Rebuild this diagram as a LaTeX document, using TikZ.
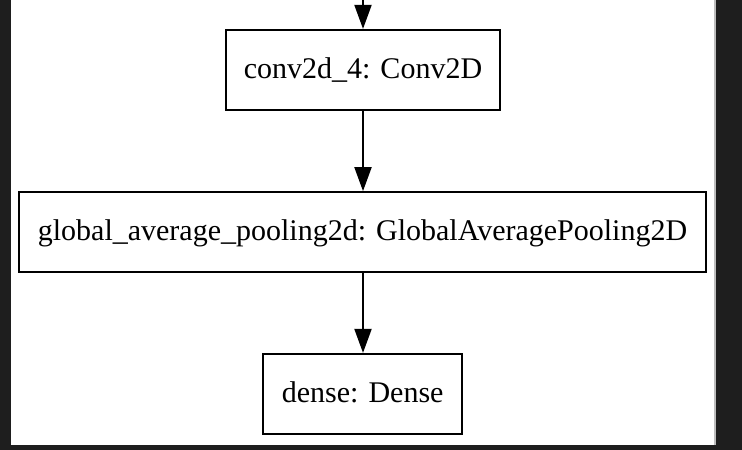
\documentclass[tikz,border=0pt]{standalone}
\usepackage{fontspec}
\setmainfont{Liberation Serif}
\usetikzlibrary{arrows.meta}
\definecolor{darkbg}{HTML}{1E1E1E}
\definecolor{edgegrey}{HTML}{BDBDBD}
\begin{document}
\begin{tikzpicture}[x=1bp,y=-1bp,
  layer/.style={draw=black, line width=2.2bp, fill=white, inner sep=0pt,
    font=\fontsize{30bp}{36bp}\selectfont, text height=20bp, text depth=3.4bp},
  flow/.style={draw=black, line width=2bp, -{Triangle[length=24bp,width=17bp]}}
]
\useasboundingbox (0,0) rectangle (742,450);
\fill[darkbg] (0,0) rectangle (742,450);
\fill[white] (11,0) rectangle (715,445);
\draw[edgegrey, line width=1.5bp] (715.2,0) -- (715.2,445);

\coordinate (in) at (363,0);
\node[layer, minimum width=274bp, minimum height=80bp] (conv) at (363,70) {conv2d\_4: Conv2D};
\node[layer, minimum width=687bp, minimum height=79.5bp] (gap) at (362.5,232) {global\_average\_pooling2d: GlobalAveragePooling2D};
\node[layer, minimum width=199bp, minimum height=80bp] (dense) at (362.7,394) {dense: Dense};

\draw[flow] (in) -- (conv.north);
\draw[flow] (conv.south) -- (conv.south |- gap.north);
\draw[flow] (conv.south |- gap.south) -- (conv.south |- dense.north);
\end{tikzpicture}
\end{document}
